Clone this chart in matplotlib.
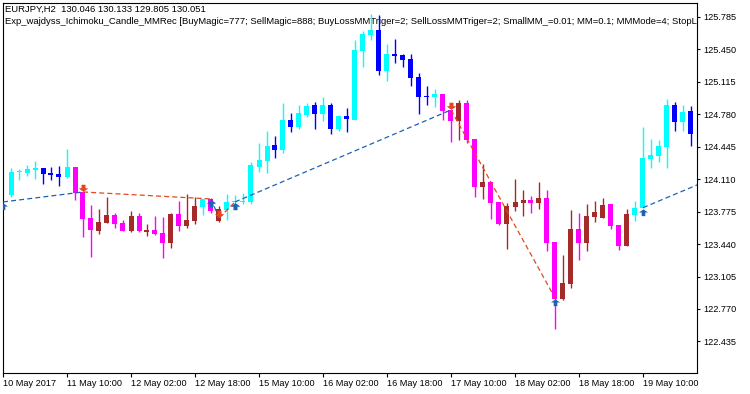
import matplotlib
matplotlib.use('Agg')
import matplotlib.pyplot as plt
from matplotlib.path import Path

# ---------------- data ----------------
opens = [123.944, 124.180, 124.174, 124.208, 124.226, 124.174, 124.164, 124.133,
         124.236, 123.978, 123.709, 123.575, 123.658, 123.740, 123.658, 123.575,
         123.730, 123.565, 123.585, 123.554, 123.451, 123.750, 123.627, 123.678,
         123.823, 123.906, 123.678, 123.792, 123.874, 123.874, 123.874, 124.236,
         124.298, 124.463, 124.412, 124.722, 124.649, 124.773, 124.876, 124.783,
         124.876, 124.629, 124.763, 124.722, 125.434, 125.599, 125.650, 125.227,
         125.403, 125.392, 125.351, 125.165, 124.969, 124.959, 124.990, 124.825,
         124.711, 124.897, 124.525, 124.030, 124.082, 123.874, 123.647, 123.823,
         123.864, 123.895, 123.864, 123.916, 123.461, 122.873, 123.028, 123.596,
         123.451, 123.720, 123.709, 123.854, 123.637, 123.420, 123.740, 123.812,
         124.319, 124.350, 124.443, 124.876, 124.701, 124.814]
highs = [124.226, 124.216, 124.257, 124.298, 124.226, 124.236, 124.247, 124.422,
         124.236, 123.978, 123.843, 123.802, 123.927, 123.761, 123.689, 123.781,
         123.761, 123.647, 123.730, 123.720, 123.761, 123.885, 123.958, 123.927,
         123.906, 123.916, 123.833, 123.958, 123.947, 123.968, 124.288, 124.484,
         124.608, 124.556, 124.897, 124.794, 124.876, 124.897, 124.907, 124.959,
         124.897, 124.773, 124.845, 125.547, 125.640, 125.815, 125.805, 125.506,
         125.557, 125.403, 125.403, 125.206, 125.072, 125.041, 124.990, 124.825,
         124.928, 124.928, 124.525, 124.267, 124.082, 123.874, 123.864, 124.112,
         123.999, 123.937, 124.082, 123.999, 123.461, 123.327, 123.792, 123.761,
         123.854, 123.885, 123.916, 123.854, 123.637, 123.802, 123.885, 124.649,
         124.525, 124.515, 124.938, 124.907, 124.876, 124.866]
lows = [123.930, 124.102, 124.143, 124.112, 124.061, 124.102, 124.040, 124.123,
        123.895, 123.513, 123.307, 123.544, 123.658, 123.606, 123.575, 123.565,
        123.565, 123.523, 123.534, 123.296, 123.399, 123.575, 123.606, 123.647,
        123.740, 123.761, 123.668, 123.689, 123.843, 123.854, 123.854, 124.185,
        124.174, 124.329, 124.381, 124.598, 124.629, 124.753, 124.629, 124.711,
        124.577, 124.608, 124.598, 124.722, 125.268, 125.547, 125.186, 125.124,
        125.310, 125.268, 125.072, 124.783, 124.876, 124.856, 124.722, 124.494,
        124.515, 124.484, 123.927, 123.906, 123.699, 123.637, 123.389, 123.781,
        123.730, 123.761, 123.802, 123.369, 122.564, 122.863, 122.987, 123.276,
        123.369, 123.668, 123.709, 123.596, 123.379, 123.420, 123.678, 123.812,
        124.226, 124.288, 124.226, 124.608, 124.608, 124.453]
closes = [124.185, 124.185, 124.216, 124.229, 124.164, 124.154, 124.133, 124.236,
          123.968, 123.699, 123.585, 123.668, 123.740, 123.647, 123.575, 123.730,
          123.575, 123.585, 123.544, 123.451, 123.750, 123.627, 123.689, 123.833,
          123.906, 123.781, 123.802, 123.874, 123.885, 123.885, 124.257, 124.309,
          124.453, 124.412, 124.722, 124.649, 124.794, 124.866, 124.783, 124.876,
          124.629, 124.763, 124.732, 125.444, 125.609, 125.650, 125.227, 125.403,
          125.382, 125.341, 125.155, 124.959, 124.959, 124.990, 124.814, 124.711,
          124.897, 124.515, 124.030, 124.082, 123.864, 123.647, 123.833, 123.874,
          123.895, 123.864, 123.916, 123.451, 122.873, 123.038, 123.596, 123.451,
          123.730, 123.771, 123.843, 123.627, 123.420, 123.750, 123.812, 124.329,
          124.360, 124.453, 124.876, 124.701, 124.804, 124.577]
# Ichimoku trend state of each candle: 1 = up, 0 = down
trend_up = [1, 1, 1, 1, 1, 1, 1, 1,
            0, 0, 0, 0, 0, 0, 0, 0,
            0, 0, 0, 0, 0, 0, 0, 0,
            1, 0, 0, 1, 1, 1, 1, 1,
            1, 1, 1, 1, 1, 1, 1, 1,
            1, 1, 1, 1, 1, 1, 1, 1,
            1, 1, 1, 1, 1, 1, 0, 0,
            0, 0, 0, 0, 0, 0, 0, 0,
            0, 0, 0, 0, 0, 0, 0, 0,
            0, 0, 0, 0, 0, 0, 1, 1,
            1, 1, 1, 1, 1, 1]

# trades (bar index, price)
trade_types = ['buy', 'sell', 'buy', 'sell', 'buy', 'sell', 'buy']
trade_open_bar = [-1, 9, 25, 26, 28, 55, 79]
trade_open_price = [123.875, 123.978, 123.906, 123.710, 123.875, 124.825, 123.816]
trade_close_bar = [9, 25, 26, 28, 55, 68, 88]
trade_close_price = [123.978, 123.906, 123.710, 123.875, 124.825, 122.884, 124.128]

x_tick_bars = [-1, 7, 15, 23, 31, 39, 47, 55, 63, 71, 79]
x_tick_labels = ['10 May 2017', '11 May 10:00', '12 May 02:00', '12 May 18:00',
                 '15 May 10:00', '16 May 02:00', '16 May 18:00', '17 May 10:00',
                 '18 May 02:00', '18 May 18:00', '19 May 10:00']
y_ticks = [125.785, 125.450, 125.115, 124.780, 124.445, 124.110,
           123.775, 123.440, 123.105, 122.770, 122.435]

title_line1 = 'EURJPY,H2  130.046 130.133 129.805 130.051'
title_line2 = ('Exp_wajdyss_Ichimoku_Candle_MMRec [BuyMagic=777; SellMagic=888; '
               'BuyLossMMTriger=2; SellLossMMTriger=2; SmallMM_=0.01; MM=0.1; '
               'MMMode=4; StopL')

# ---------------- styling ----------------
C_UP_BULL = '#00FFFF'
C_UP_BEAR = '#0000FF'
C_DN_BEAR = '#FF00FF'
C_DN_BULL = '#A52A2A'
C_BUY = '#1B63B5'
C_SELL = '#E6471C'

plt.rcParams['font.family'] = ['Liberation Sans', 'DejaVu Sans']

W, H = 750, 394
fig = plt.figure(figsize=(W / 100, H / 100), dpi=100)
L, R, T, B = 3, 697, 3, 373
ax = fig.add_axes([L / W, 1 - B / H, (R - L) / W, (B - T) / H])

ax.set_xlim(-1, -1 + (R - L) / 8.0)
ax.set_ylim(122.109, 125.929)

body_w = 0.625
min_body = 0.012
for i in range(len(opens)):
    o, h, l, c = opens[i], highs[i], lows[i], closes[i]
    bull = c >= o
    if trend_up[i]:
        col = C_UP_BULL if bull else C_UP_BEAR
    else:
        col = C_DN_BULL if bull else C_DN_BEAR
    ax.vlines(i, l, h, colors=col, linewidth=1.0, zorder=3)
    bottom = min(o, c)
    height = max(abs(c - o), min_body)
    ax.bar(i, height, bottom=bottom, width=body_w, color=col,
           linewidth=0, zorder=3)

# trade lines
for t, ob, op, cb, cp in zip(trade_types, trade_open_bar, trade_open_price,
                             trade_close_bar, trade_close_price):
    col = C_BUY if t == 'buy' else C_SELL
    ax.plot([ob, cb], [op, cp], color=col, lw=0.9,
            linestyle=(0, (4, 2.5)), zorder=4)

# deal arrows
up_verts = [(0, -0.12), (0.62, -0.55), (0.25, -0.55), (0.25, -1.05),
            (-0.25, -1.05), (-0.25, -0.55), (-0.62, -0.55), (0, -0.12)]
dn_verts = [(x, -y) for x, y in up_verts]
buy_marker = Path(up_verts, closed=True)
sell_marker = Path(dn_verts, closed=True)

buy_x, buy_y, sell_x, sell_y = [], [], [], []
for t, ob, op, cb, cp in zip(trade_types, trade_open_bar, trade_open_price,
                             trade_close_bar, trade_close_price):
    if t == 'buy':
        buy_x.append(ob); buy_y.append(op)
        sell_x.append(cb); sell_y.append(cp)
    else:
        sell_x.append(ob); sell_y.append(op)
        buy_x.append(cb); buy_y.append(cp)
ax.plot(buy_x, buy_y, linestyle='none', marker=buy_marker, markersize=11,
        color=C_BUY, markeredgewidth=0, zorder=5)
ax.plot(sell_x, sell_y, linestyle='none', marker=sell_marker, markersize=11,
        color=C_SELL, markeredgewidth=0, zorder=5)

# axes
for s in ax.spines.values():
    s.set_color('black')
    s.set_linewidth(0.8)
ax.yaxis.tick_right()
ax.set_yticks(y_ticks)
ax.set_yticklabels(['%.3f' % v for v in y_ticks])
ax.set_xticks(x_tick_bars)
ax.set_xticklabels(x_tick_labels, ha='left')
ax.tick_params(axis='y', direction='out', length=2.5, width=0.8, pad=2,
               labelsize=6.6, colors='black')
ax.tick_params(axis='x', direction='out', length=3, width=0.8, pad=1.5,
               labelsize=6.6, colors='black')

ax.text((5 - L) / (R - L), 1 - (12 - T) / (B - T), title_line1,
        transform=ax.transAxes, fontsize=6.8, ha='left', va='baseline',
        clip_on=True, zorder=2)
ax.text((5 - L) / (R - L), 1 - (24 - T) / (B - T), title_line2,
        transform=ax.transAxes, fontsize=6.8, ha='left', va='baseline',
        clip_on=True, zorder=2)

fig.savefig('out.png', dpi=100, facecolor='white')
